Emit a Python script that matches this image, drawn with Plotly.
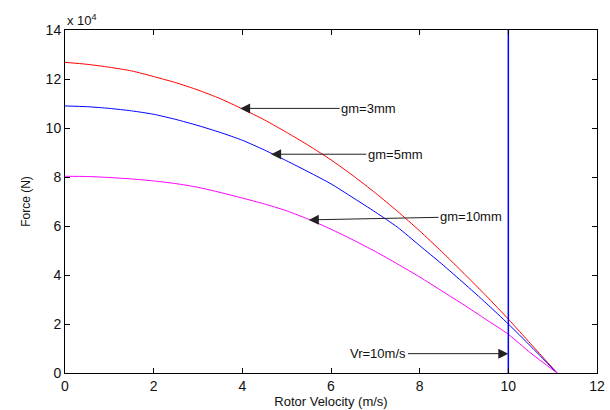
import plotly.graph_objects as go

# Rotor velocity (m/s)
velocity = [0, 0.5, 1, 1.5, 2, 2.5, 3, 3.5, 4, 4.5, 5, 5.5, 6, 6.5, 7, 7.5, 8, 8.5, 9, 9.5, 10, 10.5, 11.1]
# Force in units of 1e4 N
force_3mm = [12.68, 12.6, 12.48, 12.33, 12.1, 11.85, 11.55, 11.2, 10.78, 10.33, 9.82, 9.28, 8.7, 8.05, 7.35, 6.6, 5.8, 4.95, 4.06, 3.15, 2.2, 1.2, 0]
force_5mm = [10.9, 10.87, 10.8, 10.7, 10.56, 10.35, 10.1, 9.82, 9.5, 9.1, 8.66, 8.2, 7.72, 7.15, 6.57, 5.95, 5.2, 4.45, 3.66, 2.85, 2.0, 1.1, 0]
force_10mm = [8.03, 8.02, 7.98, 7.92, 7.84, 7.73, 7.58, 7.37, 7.14, 6.9, 6.62, 6.27, 5.87, 5.43, 4.96, 4.45, 3.92, 3.35, 2.78, 2.18, 1.58, 0.82, 0]
vr_line_x = [10, 10]
vr_line_y = [0, 14]

x_ticks = [0, 2, 4, 6, 8, 10, 12]
y_ticks = [0, 2, 4, 6, 8, 10, 12, 14]

font_family = "Liberation Sans, Arial, sans-serif"

fig = go.Figure()
fig.add_trace(go.Scatter(x=velocity, y=force_3mm, mode="lines", line=dict(color="#ff0000", width=1, shape="spline", smoothing=0.6), name="gm=3mm"))
fig.add_trace(go.Scatter(x=velocity, y=force_5mm, mode="lines", line=dict(color="#0000ff", width=1, shape="spline", smoothing=0.6), name="gm=5mm"))
fig.add_trace(go.Scatter(x=velocity, y=force_10mm, mode="lines", line=dict(color="#ff00ff", width=1, shape="spline", smoothing=0.6), name="gm=10mm"))
fig.add_trace(go.Scatter(x=vr_line_x, y=vr_line_y, mode="lines", line=dict(color="#0000ff", width=1.5), name="Vr"))

annots = [
    # (tip x, tip y, text x, text y, text)
    (3.95, 10.8, 6.85, 10.8, "gm=3mm"),
    (4.65, 8.93, 7.45, 8.93, "gm=5mm"),
    (5.5, 6.25, 9.16, 6.38, "gm=10mm"),
    (10.0, 0.79, 7.07, 0.79, "Vr=10m/s"),
]
for tx, ty, ax_, ay_, txt in annots:
    fig.add_annotation(x=tx, y=ty, ax=ax_, ay=ay_, xref="x", yref="y", axref="x", ayref="y",
                       text=txt, showarrow=True, arrowhead=2, arrowsize=2, arrowwidth=1,
                       arrowcolor="#222222", standoff=0, startstandoff=0,
                       font=dict(family=font_family, size=13, color="#111111"))

fig.add_annotation(x=0, y=1, xref="paper", yref="paper", xanchor="left", yanchor="bottom",
                   text="x 10<sup>4</sup>", showarrow=False, yshift=0,
                   font=dict(family=font_family, size=13, color="#111111"))

fig.update_layout(
    width=610, height=410,
    margin=dict(l=65, r=13, t=30, b=37),
    paper_bgcolor="white", plot_bgcolor="white",
    showlegend=False,
    font=dict(family=font_family, size=14, color="#111111"),
)
fig.update_xaxes(range=[0, 12], tickvals=x_ticks, ticks="inside", ticklen=5, tickcolor="black",
                 showline=True, linecolor="black", linewidth=1, mirror="ticks", showgrid=False, zeroline=False,
                 automargin=False, tickfont=dict(size=14),
                 title=dict(text="Rotor Velocity (m/s)", font=dict(size=13), standoff=1))
fig.update_yaxes(range=[0, 14], tickvals=y_ticks, ticks="inside", ticklen=5, tickcolor="black",
                 showline=True, linecolor="black", linewidth=1, mirror="ticks", showgrid=False, zeroline=False,
                 automargin=False, tickfont=dict(size=14),
                 title=dict(text="Force (N)", font=dict(size=12), standoff=12))

fig.write_html("out.html")
